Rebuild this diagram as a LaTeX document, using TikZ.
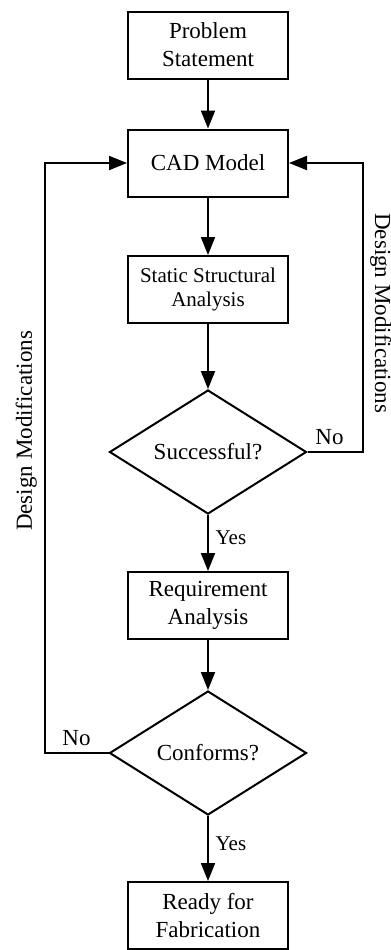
\documentclass[tikz,border=0pt]{standalone}
\usepackage{fontspec}
\setmainfont{Liberation Serif}
\usepackage{tikz}
\usetikzlibrary{arrows.meta,shapes.geometric}
\tikzset{>={Triangle[width=7pt,length=9pt]}}
\tikzset{
  block/.style={draw, line width=1pt, minimum width=80pt, minimum height=33.5pt, inner sep=0pt, align=center, font=\fontsize{11.5}{14}\selectfont},
  decision/.style={draw, line width=1pt, diamond, aspect=1.6, minimum width=98.5pt, minimum height=62pt, inner sep=0pt, font=\fontsize{11.5}{14}\selectfont},
  flow/.style={->, line width=1pt},
  lbl/.style={font=\fontsize{11.5}{14}\selectfont}
}

\begin{document}
\begin{tikzpicture}[x=0.5pt, y=-0.5pt]
  \useasboundingbox (0,0) rectangle (391,950);

  \node[block] (prob) at (208, 45) {Problem\\Statement};
  \node[block] (cad) at (208, 163) {CAD Model};
  \node[block, font=\fontsize{10.5}{12}\selectfont] (ssa) at (208, 289.5) {Static Structural\\Analysis};
  \node[decision] (succ) at (208, 452) {Successful?};
  \node[block] (req) at (208, 605.5) {Requirement\\Analysis};
  \node[decision] (conf) at (208, 753) {Conforms?};
  \node[block] (ready) at (208, 915.5) {Ready for\\Fabrication};

  \draw[flow] (prob) -- (cad);
  \draw[flow] (cad) -- (ssa);
  \draw[flow] (ssa) -- (succ);
  \draw[flow] (succ) -- node[lbl, font=\fontsize{10.5}{12}\selectfont, right, pos=0.4]{Yes} (req);
  \draw[flow] (req) -- (conf);
  \draw[flow] (conf) -- node[lbl, font=\fontsize{10.5}{12}\selectfont, right, pos=0.43]{Yes} (ready);

  % loop back on the right
  \draw[flow] (succ.east) -- node[lbl, above, pos=0.4]{No} ++(55,0)
    |- node[lbl, pos=0.24, rotate=-90, above]{Design Modifications} (cad.east);
  % loop back on the left
  \draw[flow] (conf.west) -- node[lbl, above]{No} ++(-64,0)
    |- node[lbl, pos=0.273, rotate=90, above]{Design Modifications} (cad.west);

\end{tikzpicture}
\end{document}
